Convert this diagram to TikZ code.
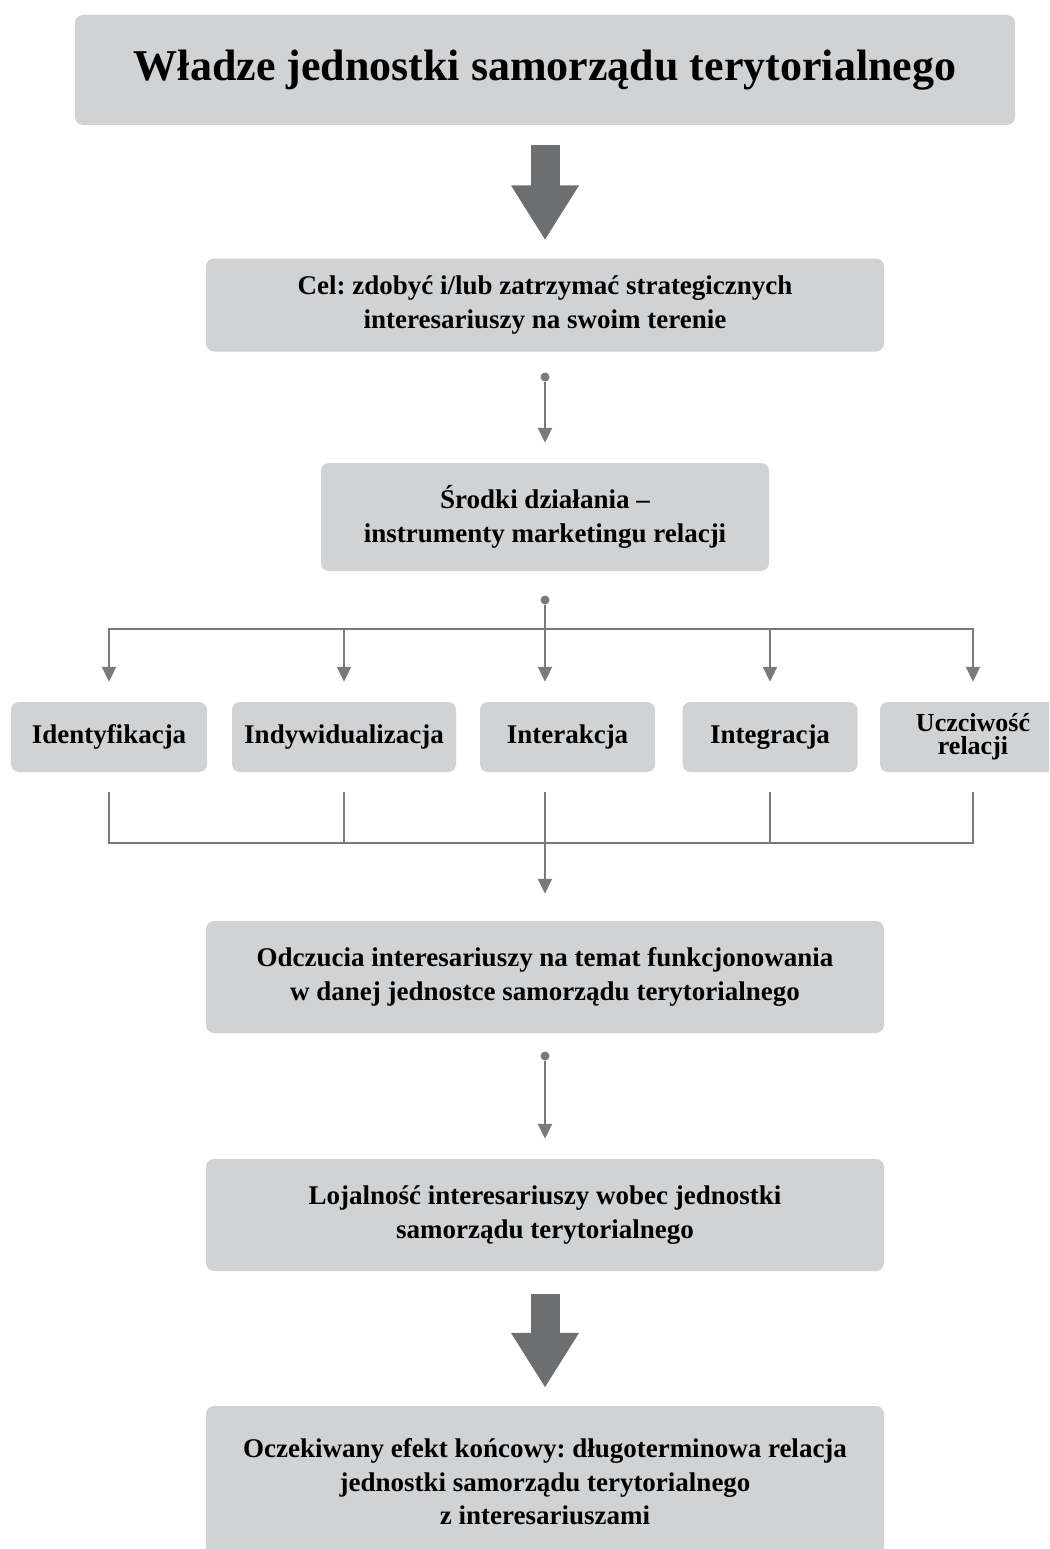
\documentclass[tikz,border=0pt]{standalone}
\usepackage{fontspec}
\setmainfont{Liberation Serif}
\frenchspacing
\usetikzlibrary{arrows.meta,calc}
\definecolor{boxgray}{HTML}{D1D2D4}
\definecolor{arrowgray}{HTML}{6D6E70}
\definecolor{linegray}{HTML}{7A7A7A}
\tikzset{>=Latex, conn/.style={draw=linegray, line width=2pt}, tipd/.style={-{Triangle[length=15pt,width=14pt]}},
fat/.style={draw=arrowgray, line width=29pt, -{Triangle[length=55pt,width=64pt]}},
dot/.style={circle, fill=linegray, inner sep=0pt, minimum size=9pt},
box/.style={fill=boxgray, rounded corners=8pt, align=center, inner sep=0pt, font=\bfseries\fontsize{27}{33.5}\selectfont},
tool/.style={box, minimum height=70pt}}

\begin{document}
\begin{tikzpicture}[x=1pt,y=-1pt]
\clip (0,0) rectangle (1049,1549);
\node[box, minimum width=940pt, minimum height=110pt, font=\bfseries\fontsize{44}{50}\selectfont] (wladze) at (545,70) {Władze jednostki samorządu terytorialnego};
\node[box, minimum width=678pt, minimum height=93pt] (cel) at (545,305) {Cel: zdobyć i/lub zatrzymać strategicznych\\interesariuszy na swoim terenie};
\node[box, minimum width=448pt, minimum height=108pt] (srodki) at (545,517) {Środki działania –\\instrumenty marketingu relacji};

% instruments
\node[tool, minimum width=196pt] (ident) at (109,737) {Identyfikacja};
\node[tool, minimum width=224pt] (indyw) at (344,737) {Indywidualizacja};
\node[tool, minimum width=175pt] (inter) at (567.5,737) {Interakcja};
\node[tool, minimum width=175pt] (integ) at (770,737) {Integracja};
\node[tool, minimum width=186pt, font=\bfseries\fontsize{26}{23}\selectfont] (uczc) at (973,737) {Uczciwość\\relacji};

\node[box, minimum width=678pt, minimum height=112pt] (odcz) at (545,977) {Odczucia interesariuszy na temat funkcjonowania\\w danej jednostce samorządu terytorialnego};
\node[box, minimum width=678pt, minimum height=112pt] (lojal) at (545,1215) {Lojalność interesariuszy wobec jednostki\\samorządu terytorialnego};
\node[box, minimum width=678pt, minimum height=152pt] (efekt) at (545,1482) {Oczekiwany efekt końcowy: długoterminowa relacja\\jednostki samorządu terytorialnego\\z interesariuszami};

\node[dot] (d1) at (545,377) {};
\node[dot] (d2) at (545,600) {};
\node[dot] (d3) at (545,1056) {};
\coordinate (busA) at (545,629);
\coordinate (busB) at (545,843);

\draw[fat] ([yshift=-20pt]wladze.south) -- ([yshift=18pt]cel.north);
\draw[conn,tipd] (d1) -- ([yshift=20pt]srodki.north);

% fan out
\draw[conn, line cap=rect] (ident.north |- busA) -- (uczc.north |- busA);
\draw[conn,tipd] (d2) -- ([yshift=20pt]inter.north -| d2);
\foreach \b in {ident,indyw,integ,uczc}
  \draw[conn,tipd] (\b.north |- busA) -- ([yshift=20pt]\b.north);

% fan in
\foreach \b in {ident,indyw,integ,uczc}
  \draw[conn] ([yshift=-20pt]\b.south) -- (\b.south |- busB);
\draw[conn, line cap=rect] (ident.south |- busB) -- (uczc.south |- busB);
\draw[conn,tipd] ([yshift=-20pt]inter.south -| busB) -- ([yshift=27pt]odcz.north);

\draw[conn,tipd] (d3) -- ([yshift=20pt]lojal.north);
\draw[fat] ([yshift=-23pt]lojal.south) -- ([yshift=18pt]efekt.north);
\end{tikzpicture}
\end{document}
